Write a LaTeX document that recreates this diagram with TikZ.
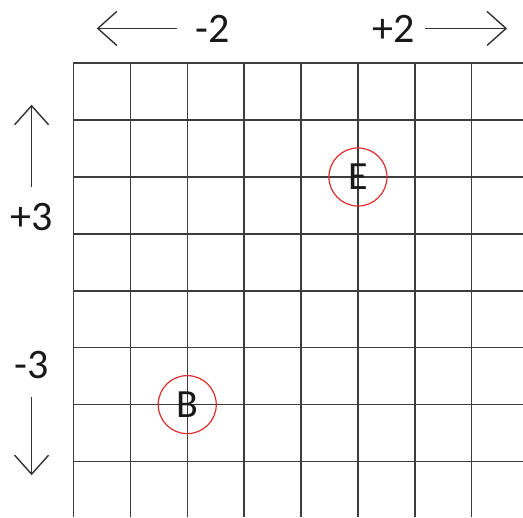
\documentclass[tikz,border=0pt]{standalone}
\usepackage{fontspec}
\setmainfont{Carlito}
\usepackage{xcolor}
\usetikzlibrary{arrows.meta,positioning}
\definecolor{gridgray}{RGB}{60,60,60}
\definecolor{arrgray}{RGB}{50,50,50}
\definecolor{spotred}{RGB}{222,45,45}

\begin{document}
\begin{tikzpicture}[
  lbl/.style={inner sep=0pt, text=black!90, font=\fontsize{21}{24}\selectfont},
  arr/.style={arrgray, line width=0.7pt, -{Straight Barb[length=9.5pt,width=17pt]}},
  spot/.style={circle, draw=spotred, line width=0.6pt, minimum size=1.02cm, inner sep=0pt, text=black!90, font=\fontsize{20}{22}\selectfont}
]
\useasboundingbox (-1.29,-7.99) rectangle (7.90,1.11);
\draw[gridgray, line width=0.7pt] (0,-7.98) grid (7.90,0);

\node[lbl] (mtwo) at (2.45,0.61) {-2};
\node[lbl] (ptwo) at (5.62,0.61) {+2};
\node[lbl] (pthree) at (-0.735,-2.70) {+3};
\node[lbl] (mthree) at (-0.735,-5.30) {-3};

\coordinate (tipW) at (0.41,0.61);
\coordinate (tipE) at (7.62,0.61);
\coordinate (tipN) at (-0.735,-0.73);
\coordinate (tipS) at (-0.735,-7.24);

\draw[arr, shorten <=9pt] (mtwo.west) -- (tipW);
\draw[arr, shorten <=5pt] (ptwo.east) -- (tipE);
\draw[arr, shorten <=8pt] (pthree.north) -- (tipN);
\draw[arr, shorten <=9pt] (mthree.south) -- (tipS);

\node[spot] (ptE) at (5,-2) {E};
\node[spot] (ptB) at (2,-6) {B};
\end{tikzpicture}
\end{document}
